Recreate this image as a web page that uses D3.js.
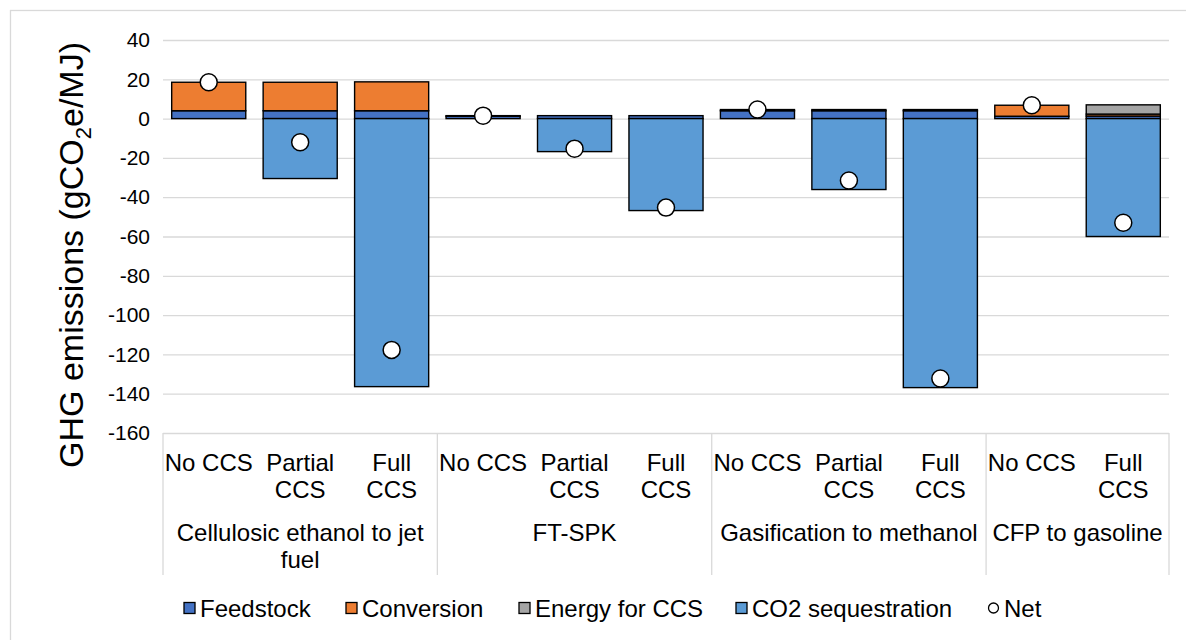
<!DOCTYPE html>
<html>
<head>
<meta charset="utf-8">
<script src="https://cdn.jsdelivr.net/npm/d3@7"></script>
<style>
  body { margin: 0; background: #fff; }
  text { font-family: "Liberation Sans", Arial, sans-serif; fill: #000; }
</style>
</head>
<body>
<svg id="chart" width="1186" height="640"></svg>
<script>
// Pathway groups and the CCS scenario under each one
const groups = ["Cellulosic ethanol to jet fuel", "FT-SPK", "Gasification to methanol", "CFP to gasoline"];
const groupSizes = [3, 3, 3, 2];
const scenarios = ["No CCS", "Partial CCS", "Full CCS",
                   "No CCS", "Partial CCS", "Full CCS",
                   "No CCS", "Partial CCS", "Full CCS",
                   "No CCS", "Full CCS"];

// Emission contributions, gCO2e/MJ
const feedstock        = [4, 4, 4,        1.2, 1.5, 1.5,   4, 4, 4,         1.2, 1.3];
const conversion       = [14.5, 14.5, 14.7, 0.3, 0, 0,     0.6, 0.6, 0.6,   5.6, 1.0];
const energyForCCS     = [0, 0, 0,        0, 0, 0,         0, 0, 0,         0, 4.7];
const co2Sequestration = [0, -30.5, -136.4, 0, -16.8, -46.8, 0, -36.1, -136.9, 0, -60];
const net              = [18.5, -12, -117.7, 1.5, -15.3, -45.3, 4.6, -31.5, -132.3, 6.8, -53];

const yTicks = [40, 20, 0, -20, -40, -60, -80, -100, -120, -140, -160];

const seriesNames  = ["Feedstock", "Conversion", "Energy for CCS", "CO2 sequestration"];
const seriesColors = ["#4472C4", "#ED7D31", "#A5A5A5", "#5B9BD5"];

const rows = scenarios.map((s, i) => ({
  "Feedstock": feedstock[i],
  "Conversion": conversion[i],
  "Energy for CCS": energyForCCS[i],
  "CO2 sequestration": co2Sequestration[i],
  idx: i
}));

const svg = d3.select("#chart");
const plotLeft = 163, plotRight = 1169, plotTop = 40, plotBottom = 433;
const labelSize = 24;

// outer chart frame
svg.append("rect")
  .attr("x", 10.5).attr("y", 10.5).attr("width", 1200).attr("height", 700)
  .attr("fill", "none").attr("stroke", "#d9d9d9").attr("stroke-width", 1.3);

const x = d3.scaleBand().domain(d3.range(scenarios.length))
  .range([plotLeft, plotRight]).paddingInner(0.19).paddingOuter(0.095);
const y = d3.scaleLinear().domain([-160, 40]).range([plotBottom, plotTop]);

// value axis with gridlines
const yAxis = svg.append("g").attr("transform", `translate(${plotLeft},0)`)
  .call(d3.axisLeft(y).tickValues(yTicks).tickFormat(d => String(d))
    .tickSize(-(plotRight - plotLeft)).tickPadding(13));
yAxis.select(".domain").remove();
yAxis.selectAll(".tick line").attr("stroke", "#d9d9d9").attr("stroke-width", 1.3);
yAxis.selectAll(".tick text").attr("font-size", 21).attr("fill", "#000")
  .style("font-family", '"Liberation Sans", Arial, sans-serif');

// axis title
const title = svg.append("text")
  .attr("transform", "translate(83,255) rotate(-90)")
  .attr("text-anchor", "middle").attr("font-size", 34);
title.append("tspan").text("GHG emissions (gCO");
title.append("tspan").text("2").attr("font-size", 22).attr("dy", 8);
title.append("tspan").text("e/MJ)").attr("dy", -8);

// stacked bars
const stack = d3.stack().keys(seriesNames).offset(d3.stackOffsetDiverging);
const layers = stack(rows);
const barG = svg.append("g");
layers.forEach((layer, k) => {
  barG.append("g").selectAll("rect")
    .data(layer.filter(d => d[1] - d[0] !== 0))
    .join("rect")
    .attr("x", d => x(d.data.idx))
    .attr("width", x.bandwidth())
    .attr("y", d => y(Math.max(d[0], d[1])))
    .attr("height", d => Math.abs(y(d[0]) - y(d[1])))
    .attr("fill", seriesColors[k])
    .attr("stroke", "#000").attr("stroke-width", 1.4);
});

// net markers
svg.append("g").selectAll("circle")
  .data(net)
  .join("circle")
  .attr("cx", (d, i) => x(i) + x.bandwidth() / 2)
  .attr("cy", d => y(d))
  .attr("r", 8.5)
  .attr("fill", "#fff").attr("stroke", "#000").attr("stroke-width", 1.5);

// category axis: scenario labels, group labels and separators
const half = (x.step() - x.bandwidth()) / 2;
const catG = svg.append("g");
scenarios.forEach((s, i) => {
  const cx = x(i) + x.bandwidth() / 2;
  const t = catG.append("text").attr("text-anchor", "middle").attr("font-size", labelSize);
  const lines = s === "No CCS" ? [s] : s.split(" ");
  lines.forEach((ln, j) => t.append("tspan").attr("x", cx).attr("y", 471 + j * 26.5).text(ln));
});

let start = 0;
const boundaries = [x(0) - half];
groups.forEach((g, gi) => {
  const end = start + groupSizes[gi];
  const gx0 = x(start) - half, gx1 = x(end - 1) + x.bandwidth() + half;
  boundaries.push(gx1);
  const lines = g === "Cellulosic ethanol to jet fuel" ? ["Cellulosic ethanol to jet", "fuel"] : [g];
  const t = catG.append("text").attr("text-anchor", "middle").attr("font-size", labelSize);
  lines.forEach((ln, j) => t.append("tspan").attr("x", (gx0 + gx1) / 2).attr("y", 541 + j * 26.5).text(ln));
  start = end;
});
catG.selectAll("line.sep").data(boundaries).join("line")
  .attr("class", "sep")
  .attr("x1", d => d).attr("x2", d => d).attr("y1", plotBottom).attr("y2", 575)
  .attr("stroke", "#d9d9d9").attr("stroke-width", 1.3);

// legend
const legendItems = seriesNames.concat(["Net"]);
const legendX = [184, 346, 519, 736, 988];
const legendY = 608;
const lg = svg.append("g");
legendItems.forEach((name, i) => {
  if (name === "Net") {
    lg.append("circle").attr("cx", legendX[i] + 5.5).attr("cy", legendY)
      .attr("r", 5).attr("fill", "#fff").attr("stroke", "#000").attr("stroke-width", 1.3);
  } else {
    lg.append("rect").attr("x", legendX[i]).attr("y", legendY - 5.5)
      .attr("width", 11).attr("height", 11)
      .attr("fill", seriesColors[i]).attr("stroke", "#000").attr("stroke-width", 1.3);
  }
  lg.append("text").attr("x", legendX[i] + 16).attr("y", legendY + 8.5)
    .attr("font-size", labelSize).text(name);
});
</script>
</body>
</html>
